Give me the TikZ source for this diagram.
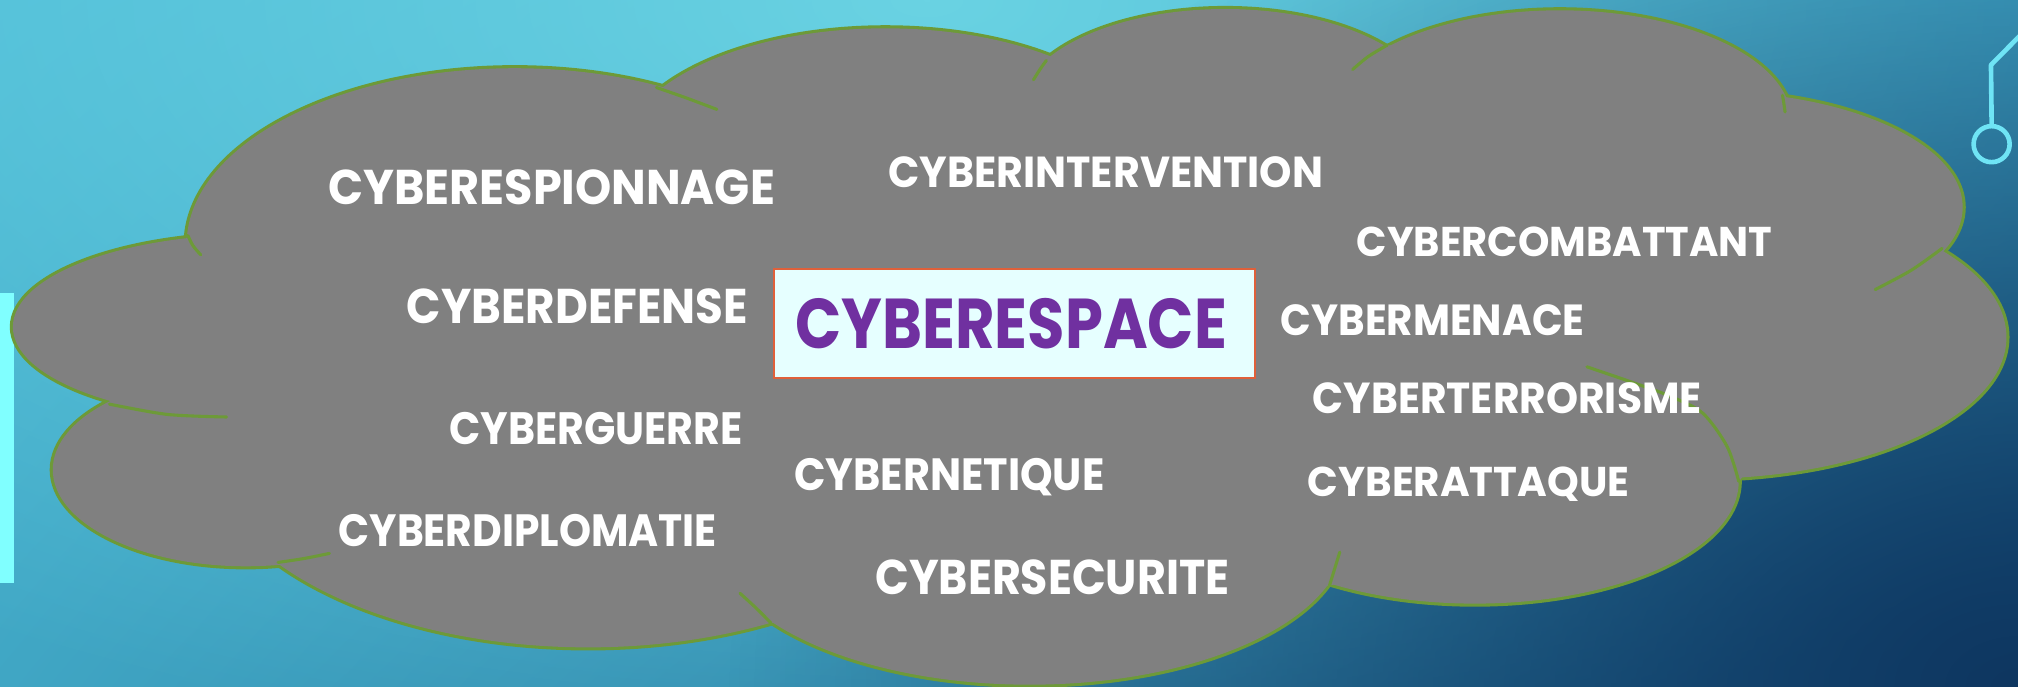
\documentclass[tikz,border=0pt]{standalone}
\usepackage{fontspec}
\setmainfont{Poppins}
\usetikzlibrary{fadings,shadings}
\definecolor{cloudgray}{HTML}{808080}
\definecolor{cloudline}{HTML}{6D9A38}
\definecolor{boxfill}{HTML}{E6FFFF}
\definecolor{boxline}{HTML}{E0603A}
\definecolor{purp}{HTML}{7030A0}
\definecolor{bgUL}{HTML}{48B7D4}
\definecolor{bgUR}{HTML}{2C93BC}
\definecolor{bgLL}{HTML}{40A6C4}
\definecolor{bgLR}{HTML}{1F6690}
\definecolor{glowlight}{HTML}{6AD3E3}
\definecolor{glowdark}{HTML}{0E3660}
\definecolor{barcyan}{HTML}{80FFFF}
\definecolor{decocyan}{HTML}{6FE4F5}
\tikzfading[name=softglow, inner color=transparent!0, outer color=transparent!100]
\newcommand{\lbl}[3]{\resizebox{#1mm}{#2mm}{\bfseries #3}}
% the eleven lobes of the cloud: centre and radii
\newcommand{\lobes}[1]{%
  \path[#1] (200,254) ellipse [x radius=190, y radius=72];
  \path[#1] (400,190) ellipse [x radius=255, y radius=137];
  \path[#1] (688,121) ellipse [x radius=205, y radius=99];
  \path[#1] (952,85) ellipse [x radius=160, y radius=78];
  \path[#1] (1212,94) ellipse [x radius=180, y radius=86];
  \path[#1] (1325,161) ellipse [x radius=200, y radius=90];
  \path[#1] (1320,262) ellipse [x radius=239, y radius=110];
  \path[#1] (1146,374) ellipse [x radius=205, y radius=95];
  \path[#1] (800,417) ellipse [x radius=245, y radius=115];
  \path[#1] (457,342) ellipse [x radius=300, y radius=161];
  \path[#1] (191,365) ellipse [x radius=150, y radius=75];
}
\begin{document}
\begin{tikzpicture}[x=1mm,y=-1mm,
  lobeline/.style={draw=cloudline, line width=4.8mm},
  lobefill/.style={fill=cloudgray},
  tick/.style={draw=cloudline, line width=2.4mm, line cap=round},
  lbl/.style={text=white, inner sep=0pt, anchor=base west},
  core/.style={draw=boxline, fill=boxfill, line width=1.3mm, inner sep=0pt,
    minimum width=373.8mm, minimum height=84.6mm, anchor=north west},
  deco/.style={draw=decocyan, line width=3.6mm}]
\useasboundingbox (0,0) rectangle (1568,533.8);
% background
\shade[upper left=bgUL, upper right=bgUR, lower left=bgLL, lower right=bgLR]
  (0,0) rectangle (1568,533.8);
\fill[glowlight, path fading=softglow] (720,0) ellipse [x radius=1300, y radius=600];
\fill[glowdark, path fading=softglow] (1568,533.8) ellipse [x radius=1000, y radius=700];
% left bar
\fill[barcyan] (0,228) rectangle (11,453);
% top-right decoration
\coordinate (d0) at (1585,12);
\coordinate (d1) at (1547,50.5);
\node[deco, circle, minimum size=28mm, inner sep=0pt] (ring) at (1547.5,112) {};
\draw[deco, line join=round] (d0) -- (d1) -- (ring.north);
% cloud: outlines first, then fills on top so only the outer edge stays
\lobes{lobeline}
\lobes{lobefill}
\fill[cloudgray] (146,183) -- (510,68) -- (813,47) -- (1078,35) -- (1385,74)
  -- (1509,193) -- (1351,374) -- (1033,455) -- (599,484) -- (216,437) -- (85,314) -- cycle;
% inner ticks
\draw[tick] plot[smooth] coordinates {(146,183) (150,191) (156,198)};
\draw[tick] plot[smooth] coordinates {(510,68) (533,76) (557,85)};
\draw[tick] plot[smooth] coordinates {(813,47) (808,54) (803,62)};
\draw[tick] plot[smooth] coordinates {(1078,35) (1063,44) (1051,54)};
\draw[tick] plot[smooth] coordinates {(1385,74) (1386,80) (1387,87)};
\draw[tick] plot[smooth] coordinates {(1509,193) (1485,210) (1457,225)};
\draw[tick] plot[smooth] coordinates {(1351,374) (1342,347) (1323,321) (1298,308) (1271,298) (1233,285)};
\draw[tick] plot[smooth] coordinates {(1033,455) (1037,442) (1041,429)};
\draw[tick] plot[smooth] coordinates {(599,484) (587,472) (575,461)};
\draw[tick] plot[smooth] coordinates {(216,437) (236,434) (256,430)};
\draw[tick] plot[smooth] coordinates {(85,314) (130,322) (176,324)};
% central box
\node[core] (core) at (600.6,208.4) {};
\node[lbl, text=purp] (t0) at (618,271) {\lbl{335}{39}{CYBERESPACE}};
% labels
\node[lbl] (t1) at (255,159) {\lbl{347}{27}{CYBERESPIONNAGE}};
\node[lbl] (t2) at (690,146) {\lbl{338}{24}{CYBERINTERVENTION}};
\node[lbl] (t3) at (1054,199) {\lbl{323}{23}{CYBERCOMBATTANT}};
\node[lbl] (t4) at (316,251) {\lbl{265}{27}{CYBERDEFENSE}};
\node[lbl] (t5) at (995,261) {\lbl{236}{24}{CYBERMENACE}};
\node[lbl] (t6) at (1020,321) {\lbl{302}{24}{CYBERTERRORISME}};
\node[lbl] (t7) at (349,345) {\lbl{228}{25}{CYBERGUERRE}};
\node[lbl] (t8) at (617,381) {\lbl{241}{25}{CYBERNETIQUE}};
\node[lbl] (t9) at (1016,386) {\lbl{250}{23}{CYBERATTAQUE}};
\node[lbl] (t10) at (263,425) {\lbl{294}{25}{CYBERDIPLOMATIE}};
\node[lbl] (t11) at (680,462) {\lbl{275}{27}{CYBERSECURITE}};
\end{tikzpicture}
\end{document}
